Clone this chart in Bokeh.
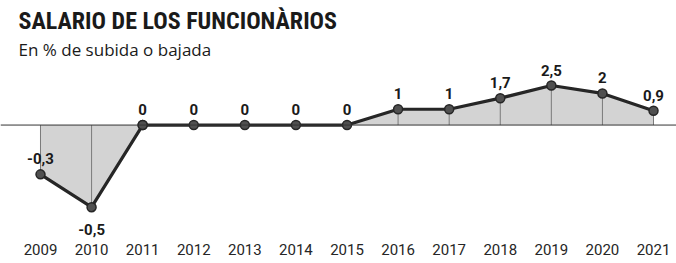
from bokeh.plotting import figure
from bokeh.models import ColumnDataSource, Range1d, Title, Span, FixedTicker, LabelSet
from bokeh.core.properties import value
from bokeh.embed import file_html
from bokeh.resources import INLINE

years = [2009, 2010, 2011, 2012, 2013, 2014, 2015, 2016, 2017, 2018, 2019, 2020, 2021]
values = [-0.3, -0.5, 0, 0, 0, 0, 0, 1, 1, 1.7, 2.5, 2, 0.9]
labels = ["-0,3", "-0,5", "0", "0", "0", "0", "0", "1", "1", "1,7", "2,5", "2", "0,9"]
title_text = "SALARIO DE LOS FUNCIONÀRIOS"
subtitle_text = "En % de subida o bajada"

# negative stretch is drawn on an exaggerated scale, as in the original graphic
first_pos = max(i for i, v in enumerate(values) if v < 0) + 1
neg_idx = list(range(0, first_pos + 1))
pos_idx = list(range(first_pos, len(values)))
vmin = min(values)

def sub(idx):
    return ColumnDataSource(dict(
        x=[years[i] for i in idx],
        y=[values[i] for i in idx],
        zero=[0] * len(idx),
        label=[labels[i] for i in idx],
    ))

src_neg = sub(neg_idx)
src_pos = sub(pos_idx)

POS_PX = 15.4
NEG_PX = 160.0
TOP_PX = 61.9
BOT_PX = 113.4

p = figure(width=676, height=257, output_backend="svg", toolbar_location=None,
           x_range=Range1d(2008.217, 2021.45),
           y_range=Range1d(-BOT_PX / POS_PX, TOP_PX / POS_PX),
           min_border=0, y_axis_location=None, background_fill_color="white")
p.extra_y_ranges = {"neg": Range1d(-BOT_PX / NEG_PX, TOP_PX / NEG_PX)}
p.outline_line_color = None
p.grid.visible = False

sub_t = Title(text=subtitle_text, text_font="Open Sans", text_font_size="17px",
              text_font_style="normal", text_color="#1a1a1a", offset=18, standoff=2)
main_t = Title(text=title_text, text_font="'Roboto Condensed', Roboto, sans-serif", text_font_size="24px",
               text_font_style="bold", text_color="#1a1a1a", offset=18, standoff=0)
spacer = Title(text=" ", text_font_size="2px", standoff=0)
p.add_layout(sub_t, "above")
p.add_layout(main_t, "above")
p.add_layout(spacer, "above")

for src, rng in ((src_neg, "neg"), (src_pos, "default")):
    p.varea(x="x", y1="zero", y2="y", source=src, fill_color="#d3d3d3", fill_alpha=1, y_range_name=rng)
    p.segment(x0="x", y0="zero", x1="x", y1="y", source=src, line_color="#7a7a7a", line_width=1,
              y_range_name=rng)

p.add_layout(Span(location=0, dimension="width", line_color="#333333", line_width=1))

for src, rng in ((src_neg, "neg"), (src_pos, "default")):
    p.line(x="x", y="y", source=src, line_color="#262626", line_width=3.2, y_range_name=rng)
    p.scatter(x="x", y="y", source=src, size=9, fill_color="#505050", line_color="#262626",
              line_width=1.5, y_range_name=rng)

# value labels: above each point, below the lowest one
groups = [
    ([i for i in neg_idx[:-1] if values[i] != vmin], "neg", "bottom", 10),
    ([i for i in neg_idx[:-1] if values[i] == vmin], "neg", "top", -17),
    (pos_idx, "default", "bottom", 10),
]
for idx, rng, base, off in groups:
    ls = LabelSet(x="x", y="y", text="label", source=sub(idx), y_range_name=rng,
                  text_align="center", text_baseline=base, y_offset=off,
                  text_font=value("Roboto"), text_font_style="bold", text_font_size="15px",
                  text_color="#1a1a1a")
    p.add_layout(ls)

ax = p.xaxis[0]
ax.ticker = FixedTicker(ticks=years)
ax.axis_line_color = None
ax.major_tick_line_color = None
ax.minor_tick_line_color = None
ax.major_tick_in = 0
ax.major_tick_out = 0
ax.major_label_standoff = 2
ax.major_label_text_font = "Roboto"
ax.major_label_text_font_size = "15px"
ax.major_label_text_color = "#262626"

open("out.html", "w").write(file_html(p, INLINE))
